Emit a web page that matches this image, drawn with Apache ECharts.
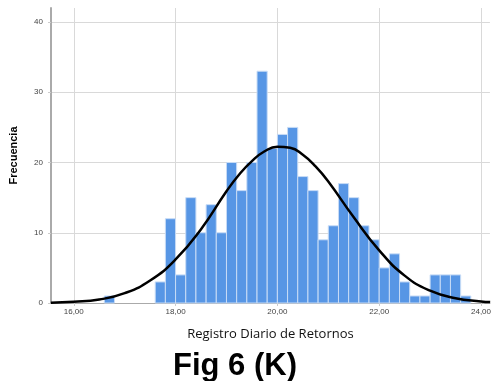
<!DOCTYPE html>
<html>
<head>
<meta charset="utf-8">
<script src="https://cdn.jsdelivr.net/npm/echarts@6/dist/echarts.min.js"></script>
<style>
  html, body { margin: 0; padding: 0; background: #fff; }
  #main { width: 494px; height: 381px; }
</style>
</head>
<body>
<div id="main"></div>
<script>
// histogram bins (start of each bin), width 0.2
var binStart = [16.6, 16.8, 17.0, 17.2, 17.4, 17.6, 17.8, 18.0, 18.2, 18.4, 18.6, 18.8,
                19.0, 19.2, 19.4, 19.6, 19.8, 20.0, 20.2, 20.4, 20.6, 20.8, 21.0, 21.2,
                21.4, 21.6, 21.8, 22.0, 22.2, 22.4, 22.6, 22.8, 23.0, 23.2, 23.4, 23.6];
var binCount = [1, 0, 0, 0, 0, 3, 12, 4, 15, 10, 14, 10,
                20, 16, 20, 33, 22, 24, 25, 18, 16, 9, 11, 17,
                15, 11, 9, 5, 7, 3, 1, 1, 4, 4, 4, 1];
var binWidth = 0.2;

// normal curve
var curveX = [15.55, 16.0, 16.5, 17.0, 17.5, 18.0, 18.5, 19.0, 19.25, 19.5, 19.75, 20.0,
              20.25, 20.5, 20.75, 21.0, 21.5, 22.0, 22.5, 23.0, 23.5, 24.0, 24.18];
var curveY = [0.05, 0.17, 0.5, 1.4, 3.2, 6.2, 10.5, 15.9, 18.3, 20.2, 21.6, 22.25,
              22.1, 21.1, 19.45, 17.3, 12.2, 7.5, 3.9, 1.75, 0.68, 0.23, 0.14];

var xTicks = [16, 18, 20, 22, 24];

var myChart = echarts.init(document.getElementById('main'));

var barData = binStart.map(function (s, i) { return [s, s + binWidth, binCount[i]]; });
var lineData = curveX.map(function (x, i) { return [x, curveY[i]]; });

var option = {
    animation: false,
    title: {
        text: 'Fig 6 (K)',
        left: 168,
        top: 346,
        textStyle: { fontFamily: 'Liberation Sans', fontSize: 31, fontWeight: 'bold', color: '#000' }
    },
    grid: { left: 50, right: 0, top: 8, bottom: 78 },
    xAxis: {
        type: 'value',
        min: 15.553,
        max: 24.175,
        name: 'Registro Diario de Retornos',
        nameLocation: 'middle',
        nameGap: 25,
        nameTextStyle: { fontFamily: 'Open Sans', fontSize: 13, color: '#111' },
        axisLine: { show: true, lineStyle: { color: '#aaa', width: 1 } },
        axisTick: { show: true, customValues: xTicks, length: 3, lineStyle: { color: '#ccc' } },
        axisLabel: {
            customValues: xTicks,
            fontFamily: 'Liberation Sans', fontSize: 8, color: '#444', margin: 5,
            formatter: function (v) { return v.toFixed(2).replace('.', ','); }
        },
        splitLine: { show: true, lineStyle: { color: '#d9d9d9', width: 1 } }
    },
    yAxis: {
        type: 'value',
        min: 0,
        max: 42,
        interval: 10,
        name: 'Frecuencia',
        nameLocation: 'middle',
        nameGap: 32,
        nameTextStyle: { fontFamily: 'Liberation Sans', fontSize: 11, fontWeight: 'bold', color: '#000' },
        axisLine: { show: true, lineStyle: { color: '#aaa', width: 2 } },
        axisTick: { show: true, length: 3, lineStyle: { color: '#ccc' } },
        axisLabel: { fontFamily: 'Liberation Sans', fontSize: 8, color: '#444', margin: 8, showMaxLabel: false },
        splitLine: { show: true, showMaxLine: false, lineStyle: { color: '#d9d9d9', width: 1 } }
    },
    series: [
        {
            type: 'custom',
            data: barData,
            encode: { x: [0, 1], y: 2 },
            renderItem: function (params, api) {
                var v = api.value(2);
                if (!v) return;
                var p0 = api.coord([api.value(0), v]);
                var p1 = api.coord([api.value(1), 0]);
                return {
                    type: 'rect',
                    shape: { x: p0[0], y: p0[1], width: p1[0] - p0[0], height: p1[1] - p0[1] },
                    style: { fill: '#5796e5', stroke: '#c8dcf6', lineWidth: 1 }
                };
            },
            z: 2
        },
        {
            type: 'line',
            data: lineData,
            smooth: 0.5,
            showSymbol: false,
            lineStyle: { color: '#000', width: 2.5 },
            z: 3
        }
    ]
};
myChart.setOption(option);
</script>
</body>
</html>
